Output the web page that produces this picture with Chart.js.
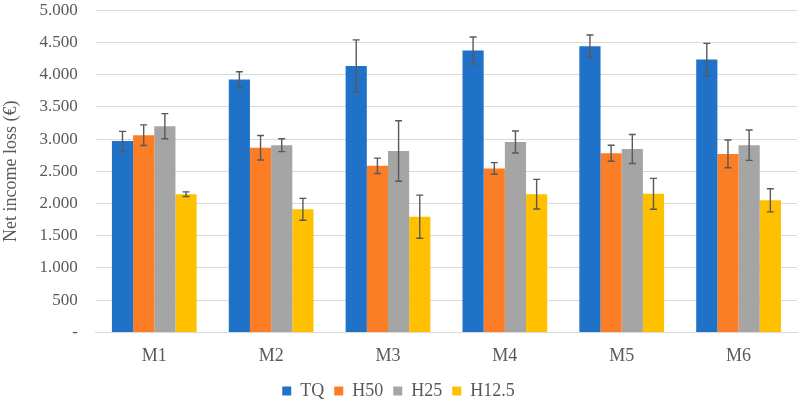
<!DOCTYPE html>
<html>
<head>
<meta charset="utf-8">
<script src="https://cdn.jsdelivr.net/npm/chart.js@4.4.1/dist/chart.umd.min.js"></script>
<style>
  html, body { margin: 0; padding: 0; background: #fff; }
  #wrap { width: 803px; height: 402px; position: relative; overflow: hidden; }
  #inner { position: absolute; left: 0; top: -18px; width: 803px; height: 428px; }
</style>
</head>
<body>
<div id="wrap"><div id="inner"><canvas id="lossChart"></canvas></div></div>
<script>
const categories = ["M1", "M2", "M3", "M4", "M5", "M6"];
const seriesNames = ["TQ", "H50", "H25", "H12.5"];
const seriesColors = ["#1f72c8", "#fb7d26", "#a5a5a5", "#ffc000"];

// mean values per series
const tqValues   = [2970, 3925, 4135, 4375, 4440, 4235];
const h50Values  = [3060, 2865, 2585, 2545, 2780, 2770];
const h25Values  = [3200, 2905, 2815, 2955, 2845, 2905];
const h125Values = [2145, 1910, 1795, 2145, 2150, 2050];

// error bar half-widths (±)
const tqErrors   = [150, 120, 405, 210, 175, 250];
const h50Errors  = [160, 190, 120, 90, 125, 215];
const h25Errors  = [195, 100, 470, 170, 225, 235];
const h125Errors = [35, 170, 335, 230, 240, 180];

const yTicks = [0, 500, 1000, 1500, 2000, 2500, 3000, 3500, 4000, 4500, 5000];

const allValues = [tqValues, h50Values, h25Values, h125Values];
const allErrors = [tqErrors, h50Errors, h25Errors, h125Errors];

const textColor = "#595959";
const serif = "'Liberation Serif', 'Times New Roman', serif";

// draws the ± whiskers on top of every bar
const errorBarPlugin = {
    id: "errorBars",
    afterDatasetsDraw(chart) {
        const ctx = chart.ctx;
        const y = chart.scales.y;
        ctx.save();
        ctx.strokeStyle = "#595959";
        ctx.lineWidth = 1.4;
        chart.data.datasets.forEach((ds, i) => {
            const meta = chart.getDatasetMeta(i);
            meta.data.forEach((bar, j) => {
                const v = ds.data[j];
                const e = allErrors[i][j];
                const top = y.getPixelForValue(v + e);
                const bot = y.getPixelForValue(v - e);
                const cap = 3.5;
                ctx.beginPath();
                ctx.moveTo(bar.x, top);
                ctx.lineTo(bar.x, bot);
                ctx.moveTo(bar.x - cap, top);
                ctx.lineTo(bar.x + cap, top);
                ctx.moveTo(bar.x - cap, bot);
                ctx.lineTo(bar.x + cap, bot);
                ctx.stroke();
            });
        });
        ctx.restore();
    }
};

const ctx = document.getElementById("lossChart").getContext("2d");
new Chart(ctx, {
    type: "bar",
    data: {
        labels: categories,
        datasets: seriesNames.map((name, i) => ({
            label: name,
            data: allValues[i],
            backgroundColor: seriesColors[i],
            borderWidth: 0,
            categoryPercentage: 0.725,
            barPercentage: 1.0
        }))
    },
    options: {
        responsive: true,
        maintainAspectRatio: false,
        animation: false,
        layout: { padding: { top: 0, right: 6, left: 0, bottom: 0 } },
        plugins: {
            legend: {
                position: "bottom",
                labels: {
                    color: textColor,
                    font: { family: serif, size: 18 },
                    boxWidth: 9,
                    boxHeight: 9,
                    padding: 10
                }
            },
            tooltip: { enabled: false }
        },
        scales: {
            x: {
                grid: { display: false },
                border: { color: "#d9d9d9" },
                ticks: { color: textColor, font: { family: serif, size: 18 }, padding: 5 }
            },
            y: {
                min: 0,
                max: 5000,
                afterBuildTicks(axis) { axis.ticks = yTicks.map(v => ({ value: v })); },
                grid: { color: "#d9d9d9", lineWidth: 1, drawTicks: false },
                border: { display: false },
                ticks: {
                    color: textColor,
                    font: { family: serif, size: 17 },
                    padding: 18,
                    callback: v => v === 0 ? "-" : v.toLocaleString("de-DE")
                },
                title: {
                    display: true,
                    text: "Net income loss (€)",
                    color: textColor,
                    font: { family: serif, size: 18 },
                    padding: { top: 0, bottom: 0 }
                }
            }
        }
    },
    plugins: [errorBarPlugin]
});
</script>
</body>
</html>
